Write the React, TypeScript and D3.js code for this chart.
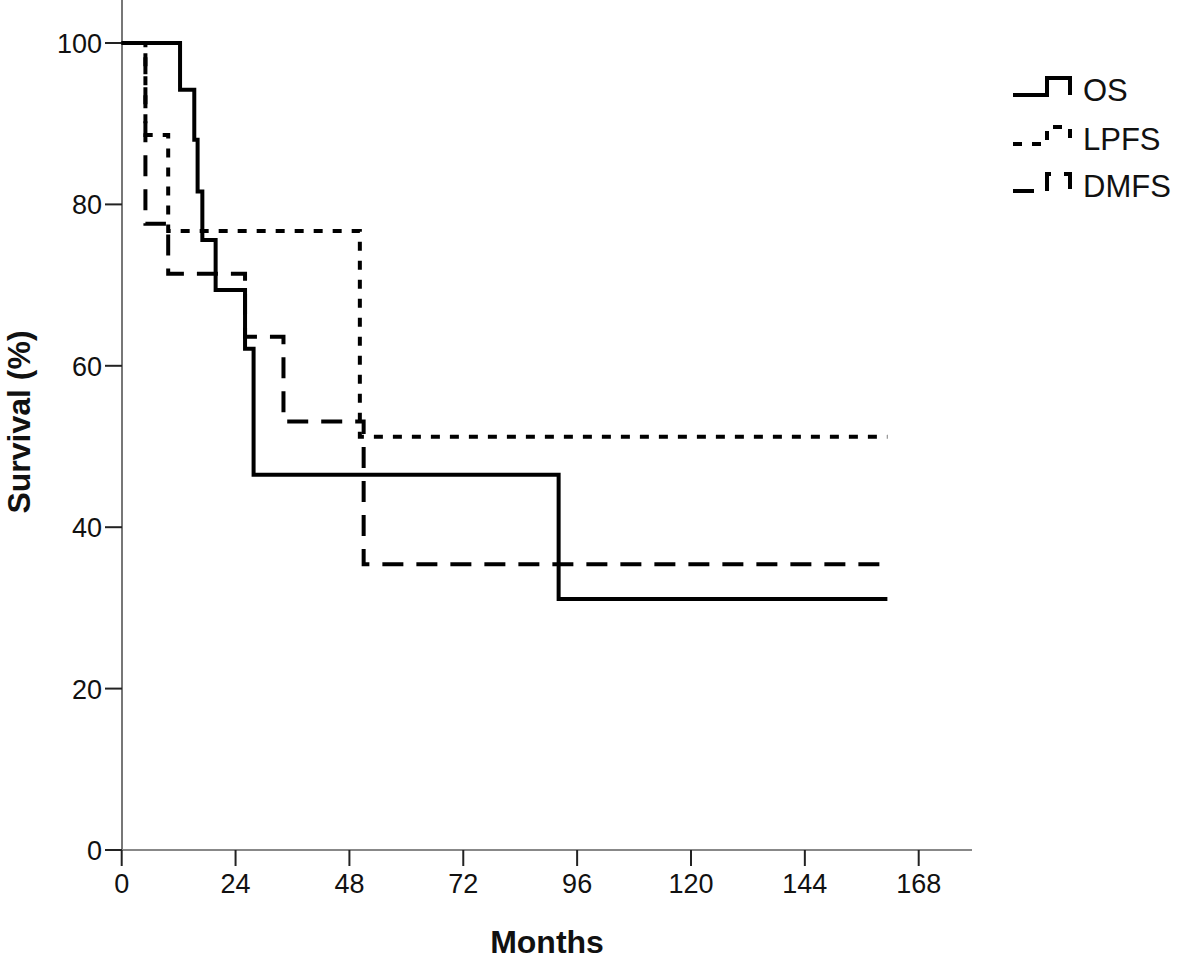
import React from 'react';
import * as d3 from 'd3';

// step points: month of each drop, survival (%) after it
const osMonths = [0, 12.3, 15.3, 16.0, 17.0, 19.8, 26.0, 27.8, 92.1, 161.4];
const osValues = [100, 94.2, 88.0, 81.6, 75.6, 69.4, 62.1, 46.5, 31.1, 31.1];

const lpfsMonths = [0, 5.0, 9.8, 50.2, 161.4];
const lpfsValues = [100, 88.6, 76.7, 51.2, 51.2];

const dmfsMonths = [0, 5.0, 9.8, 26.0, 34.1, 51.0, 161.4];
const dmfsValues = [100, 77.6, 71.4, 63.6, 53.1, 35.4, 35.4];

const seriesNames = ['OS', 'LPFS', 'DMFS'];
const xTicks = [0, 24, 48, 72, 96, 120, 144, 168];
const yTicks = [0, 20, 40, 60, 80, 100];

const dashes: { [k: string]: string | undefined } = {
    OS: undefined,
    LPFS: '9 10',
    DMFS: '21 13',
};

export default function App() {
    const width = 1181;
    const height = 959;
    const axisX0 = 122;
    const axisX1 = 972;
    const axisY = 850;

    const x = d3.scaleLinear().domain([0, 168]).range([121.7, 918.7]);
    const y = d3.scaleLinear().domain([0, 100]).range([axisY, 43]);

    const line = d3.line<[number, number]>()
        .x(d => x(d[0]))
        .y(d => y(d[1]))
        .curve(d3.curveStepAfter);

    const series = [
        { name: 'OS', pts: osMonths.map((m, i) => [m, osValues[i]] as [number, number]) },
        { name: 'LPFS', pts: lpfsMonths.map((m, i) => [m, lpfsValues[i]] as [number, number]) },
        { name: 'DMFS', pts: dmfsMonths.map((m, i) => [m, dmfsValues[i]] as [number, number]) },
    ];

    const font = '"Liberation Sans", Arial, sans-serif';
    const legendY = [90, 139, 186];

    return (
        <svg width={width} height={height} style={{ position: 'absolute', left: 0, top: 0, background: '#fff' }}
            fontFamily={font}>
            <rect x={0} y={0} width={width} height={height} fill="#fff" />

            {/* axes */}
            <line x1={axisX0} x2={axisX0} y1={0} y2={axisY} stroke="#777" strokeWidth={2} />
            <line x1={axisX0} x2={axisX1} y1={axisY} y2={axisY} stroke="#888" strokeWidth={2} />

            <g>
                {yTicks.map(t => (
                    <g key={t} transform={`translate(0,${y(t)})`}>
                        <line x1={105} x2={axisX0} y1={0} y2={0} stroke="#222" strokeWidth={2} />
                        <text x={102} y={10} textAnchor="end" fontSize={27} fill="#111">{t}</text>
                    </g>
                ))}
            </g>
            <g>
                {xTicks.map(t => (
                    <g key={t} transform={`translate(${x(t)},0)`}>
                        <line x1={0} x2={0} y1={axisY} y2={axisY + 16} stroke="#222" strokeWidth={2} />
                        <text x={0} y={893} textAnchor="middle" fontSize={27} fill="#111">{t}</text>
                    </g>
                ))}
            </g>

            <text x={(axisX0 + axisX1) / 2} y={953} textAnchor="middle" fontSize={32} fontWeight="bold" fill="#111">Months</text>
            <text transform="translate(30,422) rotate(-90)" textAnchor="middle" fontSize={32} fontWeight="bold" fill="#111">Survival (%)</text>

            {/* curves */}
            <g fill="none" stroke="#000" strokeWidth={4}>
                {series.map(s => (
                    <path key={s.name} d={line(s.pts) || ''} strokeDasharray={dashes[s.name]} />
                ))}
            </g>

            {/* legend */}
            <g>
                {seriesNames.map((n, i) => (
                    <g key={n} transform={`translate(0,${legendY[i]})`}>
                        <path d="M1013,5 H1047 V-12 H1070 V5" fill="none" stroke="#000" strokeWidth={4}
                            strokeDasharray={dashes[n]} />
                        <text x={1083} y={11} fontSize={31} fill="#111">{n}</text>
                    </g>
                ))}
            </g>
        </svg>
    );
}
